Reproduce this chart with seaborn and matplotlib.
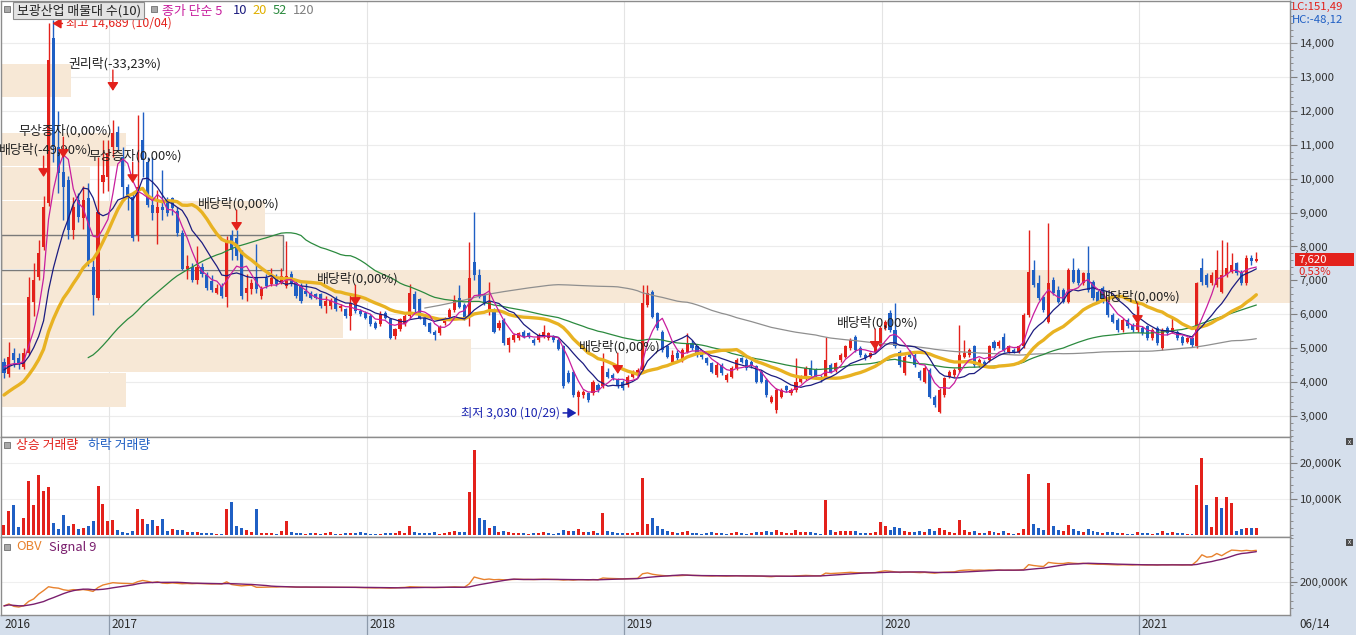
import numpy as np
import pandas as pd
import matplotlib
matplotlib.use("Agg")
import matplotlib.pyplot as plt
import matplotlib.transforms as mtransforms
from matplotlib.patches import Rectangle
from matplotlib.ticker import FixedLocator, FuncFormatter, MultipleLocator
import seaborn as sns

# ---------------- data (weekly) ----------------
first_week = "2016-08-08"
# closes before the visible window (only used to warm up the moving averages)
pre_closes = [2350, 2300, 2280, 2320, 2400, 2380, 2350, 2420, 2460, 2400,
              2380, 2450, 2500, 2480, 2520, 2600, 2650, 2700, 2750, 2800,
              2850, 2950, 3000, 3150, 3350, 3700, 4100, 4400, 4550, 4600,
              4400, 4500, 4550, 4500]

opens = [
    4590, 4250, 4860, 4710, 4450, 4860, 6360, 7100, 7990, 9290,
    14150, 10940, 10200, 9960, 8490, 9370, 8840, 9430, 7400, 6480,
    9900, 10050, 10940, 11380, 10640, 9750, 9460, 8340, 11140, 10500,
    9220, 8990, 9170, 9370, 9430, 9060, 8400, 7330, 7400, 7000,
    7400, 7160, 6970, 6640, 6835, 6520, 8350, 8250, 7860, 6640,
    6740, 7080, 6540, 7080, 6890, 7080, 6930, 6840, 7180, 6930,
    6840, 6690, 6640, 6590, 6590, 6250, 6250, 6440, 6200, 6150,
    5950, 6390, 6100, 6050, 5950, 5750, 5700, 6050, 5850, 5360,
    5560, 5700, 5950, 6590, 6440, 5880, 5735, 5490, 5440, 5735,
    5930, 6130, 6470, 6275, 5980, 7550, 7160, 6570, 6080, 6130,
    5590, 5830, 5090, 5240, 5290, 5490, 5440, 5240, 5240, 5340,
    5290, 5340, 5240, 5050, 4260, 4310, 3570, 3620, 3670, 3670,
    3910, 3870, 4310, 4210, 4060, 4010, 3910, 4160, 4210, 4360,
    6270, 6670, 6030, 5490, 5050, 4600, 4850, 4650, 4900, 5140,
    5050, 4800, 4700, 4550, 4210, 4500, 4060, 4160, 4410, 4700,
    4650, 4600, 4460, 4310, 4060, 3420, 3180, 3570, 3870, 3670,
    3770, 4010, 4110, 4410, 4360, 4160, 4160, 4500, 4360, 4650,
    4750, 5000, 5340, 5000, 4800, 4750, 4900, 5050, 5590, 6030,
    5540, 4900, 4260, 4900, 4800, 4310, 4010, 4360, 3570, 3130,
    3620, 4160, 4210, 4360, 4750, 4800, 5050, 4500, 4600, 4650,
    5190, 5050, 5340, 4900, 4950, 4900, 5050, 5980, 7310, 6910,
    6520, 5780, 7010, 6720, 6720, 6370, 7310, 7310, 6910, 7210,
    6960, 6670, 6770, 6370, 5980, 5830, 5540, 5830, 5690, 5540,
    5590, 5640, 5290, 5590, 5000, 5590, 5490, 5490, 5340, 5190,
    5290, 5050, 7360, 7160, 6910, 6860, 6670, 7160, 7260, 7500,
    7260, 6910, 7650, 7560]

highs = [
    4710, 5180, 5000, 4850, 5000, 7100, 7500, 8200, 9500, 14600,
    14689, 12010, 10760, 10080, 9450, 9570, 9770, 9860, 7600, 10640,
    11150, 11150, 11740, 11540, 10940, 9850, 9560, 11880, 11970, 10640,
    10640, 9660, 10250, 9470, 9470, 9170, 8500, 7750, 7520, 8010,
    7500, 7260, 7150, 6890, 6930, 8300, 8500, 8500, 7910, 7180,
    7030, 8060, 6840, 7180, 7380, 7180, 7380, 8150, 7280, 7030,
    6930, 6930, 6690, 6640, 6640, 6540, 6490, 6540, 6300, 6200,
    6640, 6490, 6150, 6100, 6000, 5800, 6100, 6100, 5900, 5610,
    5900, 6000, 6890, 6690, 6490, 5930, 5780, 5540, 5690, 5930,
    6180, 6570, 6860, 6330, 8140, 9030, 7350, 6620, 6960, 6180,
    5830, 5880, 5340, 5440, 5490, 5540, 5490, 5290, 5440, 5680,
    5490, 5390, 5290, 5100, 4360, 4360, 3770, 3770, 3720, 4060,
    3960, 4850, 4410, 4260, 4110, 4060, 4210, 4360, 4410, 6860,
    6860, 6720, 6080, 5540, 5100, 4950, 4950, 5000, 5440, 5240,
    5100, 4850, 4750, 4600, 4600, 4550, 4260, 4460, 4700, 4750,
    4700, 4650, 4510, 4360, 4110, 3620, 3820, 3820, 3920, 3820,
    4700, 4210, 4460, 4650, 4410, 4210, 5340, 4550, 4600, 4850,
    5100, 5290, 5390, 5050, 4850, 4900, 5140, 5640, 5830, 6130,
    6320, 4950, 4800, 4950, 4850, 4360, 4460, 4410, 3620, 3820,
    4160, 4360, 4410, 5680, 5240, 5000, 5100, 4700, 4650, 5100,
    5240, 5240, 5440, 5100, 5000, 5100, 6030, 8490, 7610, 7160,
    6570, 8680, 7110, 6820, 6770, 7360, 7650, 7360, 7260, 8000,
    7010, 6720, 6820, 6420, 6030, 5880, 5880, 5880, 5740, 6230,
    5640, 5690, 5590, 5640, 5590, 5640, 5930, 5540, 5390, 5340,
    5340, 6960, 7650, 7210, 7260, 7900, 8190, 8140, 7800, 7550,
    7310, 7750, 7750, 7850]

lows = [
    4120, 4150, 4450, 4400, 4380, 4800, 5950, 7000, 7900, 9200,
    10500, 9590, 8780, 8230, 8230, 8710, 8520, 7420, 5980, 6430,
    9590, 9640, 10640, 10840, 9460, 9070, 8170, 8170, 10040, 9170,
    8780, 8060, 8780, 8890, 8940, 8300, 7300, 7050, 6950, 6900,
    7100, 6730, 6650, 6590, 6490, 6220, 7610, 7610, 6440, 6390,
    6590, 6640, 6440, 6790, 6840, 6840, 6890, 6790, 6840, 6490,
    6340, 6540, 6440, 6440, 6200, 6050, 6150, 6100, 6100, 5900,
    5550, 6050, 5950, 5850, 5650, 5560, 5650, 5850, 5260, 5260,
    5510, 5650, 5900, 6050, 5850, 5640, 5440, 5240, 5390, 5690,
    5880, 6080, 6180, 5830, 5640, 7010, 6470, 6270, 5980, 5440,
    5540, 5090, 4900, 5190, 5240, 5290, 5290, 5090, 5190, 5290,
    5240, 5190, 4940, 3820, 3960, 3570, 3030, 3520, 3420, 3620,
    3720, 3820, 4110, 4060, 3820, 3770, 3860, 4110, 4160, 4310,
    6220, 5880, 5540, 4900, 4700, 4550, 4650, 4600, 4850, 4950,
    4750, 4680, 4500, 4260, 4160, 4210, 4010, 4110, 4360, 4550,
    4360, 4410, 3960, 3960, 3570, 3370, 3080, 3520, 3720, 3620,
    3720, 3960, 4060, 4160, 4110, 4010, 4110, 4260, 4310, 4600,
    4700, 4950, 4900, 4750, 4650, 4700, 4850, 5000, 5540, 5490,
    5000, 4450, 4210, 4700, 4450, 4060, 3960, 3520, 3270, 3080,
    3570, 4110, 4160, 4310, 4700, 4750, 4450, 4450, 4450, 4600,
    4950, 5000, 4900, 4850, 4850, 4850, 5000, 5930, 6810, 6420,
    6080, 5730, 6570, 6320, 6320, 6320, 6910, 6860, 6860, 6670,
    6420, 6320, 6320, 5930, 5730, 5490, 5490, 5590, 5490, 5490,
    5390, 5240, 5240, 5090, 4950, 5390, 5440, 5240, 5090, 5140,
    5040, 5000, 6860, 6810, 6860, 6810, 6620, 7110, 7210, 7160,
    6860, 6860, 7450, 7550]

closes = [
    4270, 4740, 4650, 4560, 4860, 6510, 7010, 7800, 9170, 13500,
    10940, 10170, 9750, 8490, 9170, 8870, 9370, 7540, 6570, 9020,
    10110, 10760, 11350, 10940, 9750, 9460, 8250, 9750, 10550, 9220,
    9000, 9170, 9080, 8990, 9150, 8400, 7330, 7420, 7000, 7400,
    7200, 6780, 6720, 6790, 6540, 8150, 7910, 7710, 6540, 6790,
    6930, 6740, 6740, 6840, 7080, 6890, 7130, 7130, 6890, 6540,
    6390, 6590, 6490, 6490, 6250, 6390, 6390, 6150, 6250, 5950,
    6340, 6100, 6000, 5900, 5700, 5610, 6000, 5900, 5310, 5560,
    5850, 5950, 6640, 6150, 5900, 5685, 5490, 5390, 5635, 5880,
    6130, 6420, 6225, 5880, 7060, 7160, 6520, 6320, 6370, 5490,
    5735, 5140, 5290, 5390, 5440, 5340, 5340, 5140, 5390, 5490,
    5440, 5240, 4990, 3870, 4010, 3620, 3720, 3720, 3470, 4010,
    3770, 4460, 4160, 4110, 3870, 3820, 4160, 4310, 4360, 6320,
    6620, 5930, 5590, 4950, 4750, 4800, 4700, 4950, 5140, 5000,
    4800, 4730, 4550, 4310, 4500, 4260, 4210, 4410, 4650, 4600,
    4410, 4460, 4010, 4010, 3620, 3570, 3770, 3770, 3770, 3770,
    4010, 4160, 4410, 4210, 4160, 4060, 4650, 4310, 4550, 4800,
    5050, 5240, 4950, 4800, 4700, 4850, 5090, 5590, 5780, 5540,
    5050, 4500, 4750, 4750, 4500, 4110, 4410, 3570, 3320, 3770,
    4110, 4310, 4360, 4800, 4850, 4950, 4500, 4650, 4500, 5050,
    5000, 5190, 4950, 5050, 4900, 5050, 5980, 7260, 6860, 6470,
    6130, 6910, 6620, 6370, 6370, 7310, 6960, 6910, 7210, 6720,
    6470, 6370, 6370, 5980, 5780, 5540, 5830, 5640, 5540, 5730,
    5440, 5290, 5540, 5140, 5540, 5440, 5590, 5290, 5140, 5290,
    5090, 6910, 6960, 6860, 7160, 7310, 7160, 7360, 7450, 7210,
    6910, 7650, 7580, 7620]

volumes = [  # thousand shares
    2780, 6670, 8330, 2300, 4630, 15090, 8330, 16670, 12220, 13430,
    3240, 1670, 5560, 2500, 2960, 1570, 1850, 2500, 3980, 13610,
    8610, 3890, 4170, 1390, 930, 460, 1110, 7220, 4440, 3060,
    4170, 2500, 4440, 1110, 1670, 1390, 1390, 830, 830, 830,
    650, 650, 460, 370, 280, 7220, 9170, 2500, 2040, 1390,
    830, 7220, 560, 560, 460, 190, 1110, 3890, 830, 460,
    500, 400, 650, 450, 300, 550, 700, 400, 350, 500,
    600, 450, 800, 500, 400, 300, 350, 450, 500, 600,
    1200, 600, 2500, 900, 600, 500, 600, 700, 400, 500,
    800, 1000, 700, 700, 11900, 23600, 4700, 4200, 2000, 2500,
    900, 1200, 800, 600, 500, 500, 400, 500, 600, 700,
    500, 400, 600, 1500, 1000, 1200, 1600, 800, 700, 1000,
    600, 6100, 1200, 700, 600, 500, 600, 500, 700, 15800,
    3000, 4700, 2500, 1800, 1200, 900, 600, 700, 1000, 600,
    500, 400, 500, 700, 600, 500, 400, 600, 700, 500,
    400, 500, 900, 700, 1200, 800, 1500, 900, 500, 600,
    1400, 700, 900, 800, 500, 400, 9700, 1500, 900, 1000,
    1200, 1100, 1000, 600, 500, 500, 800, 3600, 2500, 1500,
    2200, 2000, 1200, 700, 800, 1000, 900, 1600, 1200, 2000,
    1300, 700, 600, 4200, 1500, 900, 1200, 600, 500, 1000,
    700, 600, 1000, 500, 400, 600, 1800, 17000, 3000, 2000,
    1500, 14400, 2500, 1500, 1200, 2800, 1800, 1000, 900, 1800,
    1000, 700, 600, 800, 700, 600, 500, 400, 400, 900,
    500, 500, 400, 600, 1200, 500, 700, 500, 600, 400,
    400, 13900, 21400, 8300, 2200, 10500, 7500, 10500, 8900, 1100,
    1700, 1900, 1900, 1900]

ma_windows = [5, 10, 20, 52, 120]

# volume profile (매물대, 10 bins)
profile_edges = [3260, 4275, 5290, 6305, 7320, 8335, 9350, 10365, 11380, 12395, 13410]
profile_volume = [97, 365, 265, 1000, 219, 205, 69, 97, 0, 54]

event_idx = [8, 12, 22, 26, 47, 71, 124, 176, 229]
event_labels = ["배당락(-49,90%)", "무상증자(0,00%)", "권리락(-33,23%)", "무상증자(0,00%)",
                "배당락(0,00%)", "배당락(0,00%)", "배당락(0,00%)", "배당락(0,00%)", "배당락(0,00%)"]
event_price = [10050, 10610, 12590, 9870, 8460, 6245, 4240, 4950, 5715]

high_label = "최고 14,689 (10/04)"
low_label = "최저 3,030 (10/29)"
price_ticks = list(range(3000, 15000, 1000))
vol_ticks = [10000, 20000]
obv_ticks = [200000]
last_change_pct = 0.53
lc_text = "LC:151,49"
hc_text = "HC:-48,12"

# ---------------- style ----------------
sns.set_theme(style="white")
plt.rcParams["font.family"] = ["Noto Sans CJK KR", "DejaVu Sans"]
plt.rcParams["axes.unicode_minus"] = False

RED = "#e3211b"
BLUE = "#1f5fc4"
STRIP = "#d5dfec"
BEIGE = "#f7e8d6"
MA_COLORS = ["#c81e9e", "#1c1c80", "#e8b222", "#2b8a3e", "#8f8f8f"]
MA_WIDTHS = [0.9, 0.9, 2.4, 0.9, 0.9]
ANN_FS = 9.3

W, H = 1356, 635
fig = plt.figure(figsize=(W / 100, H / 100), dpi=100)
fig.patch.set_facecolor("white")


def rect(x0, y0, x1, y1):
    return [x0 / W, 1 - y1 / H, (x1 - x0) / W, (y1 - y0) / H]


def ftext(xp, yp, s, **kw):
    kw.setdefault("va", "center")
    kw.setdefault("ha", "left")
    return fig.text(xp / W, 1 - yp / H, s, **kw)


def fbox(xp, yp, wp, hp, **kw):
    r = Rectangle((xp / W, 1 - (yp + hp) / H), wp / W, hp / H, transform=fig.transFigure, **kw)
    fig.add_artist(r)
    return r


# background strips (right scale and bottom date band)
fbox(1290, 0, 66, 635, facecolor=STRIP, edgecolor="none", zorder=-5)
fbox(0, 615, 1356, 20, facecolor=STRIP, edgecolor="none", zorder=-5)

ax = fig.add_axes(rect(1, 1, 1290, 437))
axv = fig.add_axes(rect(1, 437, 1290, 537), sharex=ax)
axo = fig.add_axes(rect(1, 537, 1290, 615), sharex=ax)

n = len(closes)
idx = np.arange(n)
o = np.array(opens, float)
c = np.array(closes, float)
h = np.maximum(np.array(highs, float), np.maximum(o, c))
l = np.minimum(np.array(lows, float), np.minimum(o, c))
v = np.array(volumes, float)
dates = pd.date_range(first_week, periods=n, freq="7D")
week_end = dates + pd.Timedelta(days=4)

XMIN, XMAX = -0.6, 259.8
ax.set_xlim(XMIN, XMAX)
ax.set_ylim(2380, 15242)

# year separators (first week whose Friday falls in the new year)
year_pos = [i for i in range(1, n) if week_end[i].year != week_end[i - 1].year]
for a in (ax, axv, axo):
    for p in year_pos:
        a.axvline(p + 0.3, color="#e4e4e4", lw=0.8, zorder=0.6)

# volume profile bars
span = XMAX - XMIN
pmax = max(profile_volume)
for k in range(len(profile_volume)):
    lo_e, hi_e = profile_edges[k], profile_edges[k + 1]
    wdt = profile_volume[k] / pmax * span
    if wdt > 0:
        ax.barh((lo_e + hi_e) / 2, wdt, height=(hi_e - lo_e) * 0.965, left=XMIN,
                color=BEIGE, linewidth=0, zorder=1)
cur_bin = int(np.searchsorted(profile_edges, c[-1]) - 1)
ax.add_patch(Rectangle((XMIN, profile_edges[cur_bin]),
                       profile_volume[cur_bin] / pmax * span,
                       profile_edges[cur_bin + 1] - profile_edges[cur_bin],
                       fill=False, edgecolor="#7a7a7a", lw=1.0, zorder=1.5))

# candles
up = c >= o
cols = np.where(up, RED, BLUE)
ax.vlines(idx, l, h, colors=cols, lw=1.0, zorder=3)
body_bot = np.minimum(o, c)
body_h = np.maximum(np.abs(c - o), 40)
ax.bar(idx, body_h, bottom=body_bot, width=0.62, color=cols, linewidth=0, zorder=4)

# moving averages (seaborn)
full = pd.Series(list(pre_closes) + list(closes), dtype=float)
for j in [4, 3, 2, 1, 0]:
    w = ma_windows[j]
    ma = full.rolling(w).mean().to_numpy()[len(pre_closes):]
    m = ~np.isnan(ma)
    sns.lineplot(x=idx[m], y=ma[m], ax=ax, color=MA_COLORS[j], linewidth=MA_WIDTHS[j],
                 zorder=5 + 0.1 * (4 - j), estimator=None, sort=False)

# event arrows
for i, lab, p in zip(event_idx, event_labels, event_price):
    ax.annotate("", xy=(i, p), xytext=(0, 15), textcoords="offset points",
                arrowprops=dict(arrowstyle="-|>,head_length=0.5,head_width=0.33", color=RED,
                                lw=1.0, shrinkA=0, shrinkB=0, mutation_scale=10), zorder=7)
    ax.annotate(lab, xy=(i, p), xytext=(1.5, 19.5), textcoords="offset points",
                ha="center", va="center", fontsize=ANN_FS, color="#222222", zorder=7)

# highest / lowest
hi_i = int(np.argmax(h))
ax.annotate(high_label, xy=(hi_i - 0.2, h[hi_i] - 110), xytext=(9.5, 0), textcoords="offset points",
            ha="left", va="center", fontsize=8.8, color=RED, zorder=8,
            arrowprops=dict(arrowstyle="-|>,head_length=0.5,head_width=0.3", color=RED, lw=1.1,
                            shrinkA=0, shrinkB=0, mutation_scale=10))
lo_i = int(np.argmin(l))
ax.annotate(low_label, xy=(lo_i - 0.35, l[lo_i] + 60), xytext=(-12, 0), textcoords="offset points",
            ha="right", va="center", fontsize=8.8, color="#1a24b0", zorder=8,
            arrowprops=dict(arrowstyle="-|>,head_length=0.5,head_width=0.3", color="#1a24b0", lw=1.1,
                            shrinkA=0, shrinkB=0, mutation_scale=10))

# volume
vol_up = np.r_[True, c[1:] >= c[:-1]]
axv.bar(idx, v, width=0.6, color=np.where(vol_up, RED, BLUE), linewidth=0, zorder=3)
axv.set_ylim(-556, 27220)

# OBV + signal
dc = np.diff(c, prepend=c[0])
obv_raw = np.cumsum(np.sign(dc) * v)
rng = obv_raw.max() - obv_raw.min()
lo_lim = obv_raw.min() - 0.14 * rng
hi_lim = obv_raw.max() + 0.23 * rng
shift = obv_ticks[0] - (lo_lim + 0.423 * (hi_lim - lo_lim))
obv = obv_raw + shift
sig = pd.Series(obv).rolling(9, min_periods=1).mean().to_numpy()
sns.lineplot(x=idx, y=obv, ax=axo, color="#e8822e", linewidth=1.0, estimator=None, sort=False, zorder=4)
sns.lineplot(x=idx, y=sig, ax=axo, color="#7a1f6e", linewidth=1.0, estimator=None, sort=False, zorder=5)
axo.set_ylim(lo_lim + shift, hi_lim + shift)

# axes cosmetics
kfmt = FuncFormatter(lambda val, pos: f"{int(round(val)):,}")
Kfmt = FuncFormatter(lambda val, pos: f"{int(round(val)):,}K")
for a in (ax, axv, axo):
    a.set_facecolor("white")
    a.set_xlabel("")
    a.set_ylabel("")
    a.tick_params(axis="x", bottom=False, top=False, labelbottom=False)
    a.yaxis.tick_right()
    a.tick_params(axis="y", which="both", right=True, left=False, labelright=True, labelleft=False,
                  direction="out", color="#7f7f7f", labelcolor="#333333", labelsize=8.2, pad=2)
    a.tick_params(axis="y", which="major", length=5, width=0.8)
    a.tick_params(axis="y", which="minor", length=2.5, width=0.6)
    for s in a.spines.values():
        s.set_color("#8c8c8c")
        s.set_linewidth(1.0)
    a.set_axisbelow(True)
    a.grid(False)

ax.yaxis.set_major_locator(FixedLocator(price_ticks))
ax.yaxis.set_minor_locator(MultipleLocator(200))
ax.yaxis.set_major_formatter(kfmt)
for t in price_ticks:
    ax.axhline(t, color="#ececec", lw=0.8, zorder=0.5)

axv.yaxis.set_major_locator(FixedLocator(vol_ticks))
axv.yaxis.set_minor_locator(MultipleLocator(2000))
axv.yaxis.set_major_formatter(Kfmt)
for t in vol_ticks:
    axv.axhline(t, color="#efefef", lw=0.8, zorder=0.5)

axo.yaxis.set_major_locator(FixedLocator(obv_ticks))
axo.yaxis.set_minor_locator(MultipleLocator((hi_lim - lo_lim) / 10))
axo.yaxis.set_major_formatter(Kfmt)
for t in obv_ticks:
    axo.axhline(t, color="#efefef", lw=0.8, zorder=0.5)

# date band
trans = mtransforms.blended_transform_factory(axo.transData, axo.transAxes)
axo.text(XMIN + 0.8, -10 / 78, str(dates[0].year), transform=trans, ha="left", va="center",
         fontsize=8.4, color="#2a2a2a")
for p in year_pos:
    axo.plot([p + 0.3, p + 0.3], [0, -20 / 78], transform=trans, color="#8d9aab", lw=0.9, clip_on=False)
    axo.text(p + 0.8, -10 / 78, str(week_end[p].year), transform=trans, ha="left", va="center",
             fontsize=8.4, color="#2a2a2a")
ftext(1299, 624, dates[-1].strftime("%m/%d"), fontsize=8.4, color="#2a2a2a")

# headers
fbox(4, 6, 6, 6, facecolor="#a9a9a9", edgecolor="#6f6f6f", lw=0.6, zorder=10)
fbox(13, 2, 131, 17, facecolor="#e4e4e4", edgecolor="#8c8c8c", lw=0.8, zorder=10)
ftext(17, 11, "보광산업 매물대 수(10)", fontsize=9.3, color="#222222", zorder=11)
fbox(151, 6, 6, 6, facecolor="#a9a9a9", edgecolor="#6f6f6f", lw=0.6, zorder=10)
ftext(162, 11, f"종가 단순 {ma_windows[0]}", fontsize=9.3, color=MA_COLORS[0], zorder=11)
ftext(233, 11, str(ma_windows[1]), fontsize=9.3, color=MA_COLORS[1], zorder=11)
ftext(252, 11, str(ma_windows[2]), fontsize=9.3, color="#e0b000", zorder=11)
ftext(273, 11, str(ma_windows[3]), fontsize=9.3, color=MA_COLORS[3], zorder=11)
ftext(293, 11, str(ma_windows[4]), fontsize=9.3, color="#808080", zorder=11)

fbox(4, 442, 6, 6, facecolor="#a9a9a9", edgecolor="#6f6f6f", lw=0.6, zorder=10)
ftext(16, 445, "상승 거래량", fontsize=9.3, color=RED, zorder=11)
ftext(88, 445, "하락 거래량", fontsize=9.3, color=BLUE, zorder=11)
fbox(4, 544, 6, 6, facecolor="#a9a9a9", edgecolor="#6f6f6f", lw=0.6, zorder=10)
ftext(16, 547, "OBV", fontsize=9.3, color="#e8822e", zorder=11)
ftext(49, 547, "Signal 9", fontsize=9.3, color="#7a1f6e", zorder=11)

# right-side texts
ftext(1292, 7, lc_text, fontsize=8.2, color=RED, zorder=11)
ftext(1292, 20, hc_text, fontsize=8.2, color=BLUE, zorder=11)
fbox(1295, 253, 59, 13, facecolor=RED, edgecolor="none", zorder=10)
ftext(1298, 259.5, f"{int(c[-1]):,}", fontsize=8.2, color="white", zorder=11)
ftext(1298, 272, f"{last_change_pct:.2f}%".replace(".", ","), fontsize=8.2, color=RED, zorder=11)
for yb in (438, 539):
    fbox(1346, yb, 7, 7, facecolor="#4d4d4d", edgecolor="none", zorder=10)
    ftext(1349.5, yb + 3.5, "x", fontsize=4.5, color="white", ha="center", zorder=11)

fig.savefig("out.png", dpi=100)
